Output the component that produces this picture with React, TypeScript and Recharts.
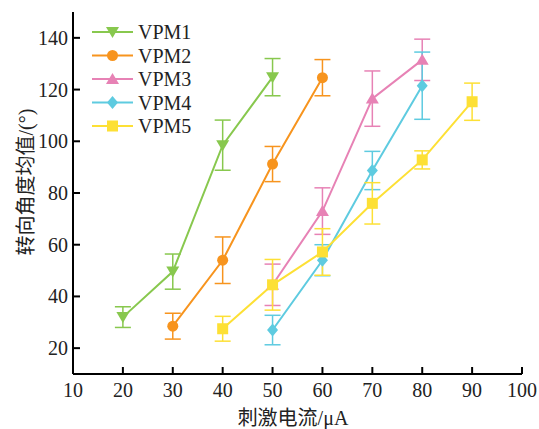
import React from 'react';
import { LineChart, Line, XAxis, YAxis, ErrorBar, Legend } from 'recharts';

const xTicks = [10, 20, 30, 40, 50, 60, 70, 80, 90, 100];
const yTicks = [20, 40, 60, 80, 100, 120, 140];

const seriesNames = ['VPM1', 'VPM2', 'VPM3', 'VPM4', 'VPM5'];
const seriesColors = ['#88c84e', '#f7941e', '#e782b5', '#5ecbe0', '#fde035'];

const currents1 = [20, 30, 40, 50];
const means1 = [32, 49.6, 98.5, 124.8];
const errors1 = [4, 6.8, 9.7, 7.2];

const currents2 = [30, 40, 50, 60];
const means2 = [28.5, 54, 91.2, 124.6];
const errors2 = [5, 9, 6.8, 7];

const currents3 = [50, 60, 70, 80];
const means3 = [44.5, 73, 116.5, 131.5];
const errors3 = [8, 9, 10.7, 8];

const currents4 = [50, 60, 70, 80];
const means4 = [27, 54, 88.7, 121.5];
const errors4 = [5.7, 6, 7.4, 13];

const currents5 = [40, 50, 60, 70, 80, 90];
const means5 = [27.5, 44.5, 57.2, 76, 92.8, 115.3];
const errors5 = [4.8, 9.8, 9, 8, 3.5, 7.2];

const toRows = (xs: number[], ys: number[], es: number[]) =>
  xs.map((x, i) => ({ x, y: ys[i], e: es[i] }));

const series = [
  toRows(currents1, means1, errors1),
  toRows(currents2, means2, errors2),
  toRows(currents3, means3, errors3),
  toRows(currents4, means4, errors4),
  toRows(currents5, means5, errors5),
];

const serif = '"Liberation Serif", "Times New Roman", serif';
const cjk = '"Liberation Serif", "Noto Sans CJK SC", serif';

function Marker({ kind, cx, cy, color }: { kind: number; cx: number; cy: number; color: string }) {
  if (kind === 0) {
    return <polygon points={`${cx - 6.5},${cy - 5} ${cx + 6.5},${cy - 5} ${cx},${cy + 6}`} fill={color} />;
  }
  if (kind === 1) return <circle cx={cx} cy={cy} r={5.5} fill={color} />;
  if (kind === 2) {
    return <polygon points={`${cx - 6.5},${cy + 5} ${cx + 6.5},${cy + 5} ${cx},${cy - 6}`} fill={color} />;
  }
  if (kind === 3) {
    return <polygon points={`${cx},${cy - 6.5} ${cx + 5.5},${cy} ${cx},${cy + 6.5} ${cx - 5.5},${cy}`} fill={color} />;
  }
  return <rect x={cx - 5.5} y={cy - 5.5} width={11} height={11} fill={color} />;
}

const XTick = (props: any) => {
  const { x, y, payload } = props;
  return (
    <g>
      <line x1={x} y1={y} x2={x} y2={y - 7} stroke="#000" strokeWidth={2} />
      <text x={x} y={y + 23} textAnchor="middle" fontFamily={serif} fontSize={20} fill="#222">
        {payload.value}
      </text>
    </g>
  );
};

const YTick = (props: any) => {
  const { x, y, payload } = props;
  return (
    <g>
      <line x1={x} y1={y} x2={x + 7} y2={y} stroke="#000" strokeWidth={2} />
      <text x={x - 5} y={y + 7} textAnchor="end" fontFamily={serif} fontSize={20} fill="#222">
        {payload.value}
      </text>
    </g>
  );
};

const LegendBox = () => (
  <svg width={120} height={120} style={{ display: 'block' }}>
    {seriesNames.map((name, i) => {
      const cy = 12 + i * 23.5;
      return (
        <g key={name}>
          <line x1={4} y1={cy} x2={45} y2={cy} stroke={seriesColors[i]} strokeWidth={2} />
          <Marker kind={i} cx={24.5} cy={cy} color={seriesColors[i]} />
          <text x={50} y={cy + 7} fontFamily={serif} fontSize={20} fill="#222">
            {name}
          </text>
        </g>
      );
    })}
  </svg>
);

export default function App() {
  return (
    <div style={{ position: 'absolute', left: 0, top: 0, width: 539, height: 429, background: '#fff' }}>
      <LineChart width={539} height={429} margin={{ top: 12, right: 17, bottom: 0, left: 0 }}>
        <XAxis
          type="number"
          dataKey="x"
          domain={[10, 100]}
          ticks={xTicks}
          height={55}
          tickSize={0}
          tickMargin={0}
          tick={<XTick />}
          axisLine={{ stroke: '#000', strokeWidth: 2 }}
          allowDuplicatedCategory={false}
          label={{
            content: () => (
              <text x={293} y={425} textAnchor="middle" fontFamily={cjk} fontSize={20} fill="#222">
                刺激电流/μA
              </text>
            ),
          }}
        />
        <XAxis
          xAxisId="top"
          orientation="top"
          type="number"
          dataKey="x"
          domain={[10, 100]}
          height={0}
          tick={false}
          tickLine={false}
          axisLine={{ stroke: '#000', strokeWidth: 2 }}
        />
        <YAxis
          type="number"
          domain={[10, 150]}
          ticks={yTicks}
          width={73}
          tickSize={0}
          tickMargin={0}
          tick={<YTick />}
          axisLine={{ stroke: '#000', strokeWidth: 2 }}
          label={{
            content: () => (
              <text
                x={26}
                y={182}
                transform="rotate(-90 26 182)"
                textAnchor="middle"
                dominantBaseline="central"
                fontFamily={cjk}
                fontSize={20}
                fill="#222"
              >
                转向角度均值/(°)
              </text>
            ),
          }}
        />
        <YAxis
          yAxisId="right"
          orientation="right"
          type="number"
          domain={[10, 150]}
          width={0}
          tick={false}
          tickLine={false}
          axisLine={{ stroke: '#000', strokeWidth: 2 }}
        />
        <Legend
          layout="vertical"
          align="center"
          verticalAlign="middle"
          content={() => <LegendBox />}
          wrapperStyle={{ left: 88, top: 20, width: 120, height: 120 }}
        />
        {series.map((rows, i) => (
          <Line
            key={seriesNames[i]}
            name={seriesNames[i]}
            data={rows}
            dataKey="y"
            stroke={seriesColors[i]}
            strokeWidth={2}
            isAnimationActive={false}
            dot={(p: any) => (
              <Marker key={`${i}-${p.index}`} kind={i} cx={p.cx} cy={p.cy} color={seriesColors[i]} />
            )}
            activeDot={false}
          >
            <ErrorBar dataKey="e" width={8} stroke={seriesColors[i]} strokeWidth={1.5} direction="y" />
          </Line>
        ))}
      </LineChart>
    </div>
  );
}
